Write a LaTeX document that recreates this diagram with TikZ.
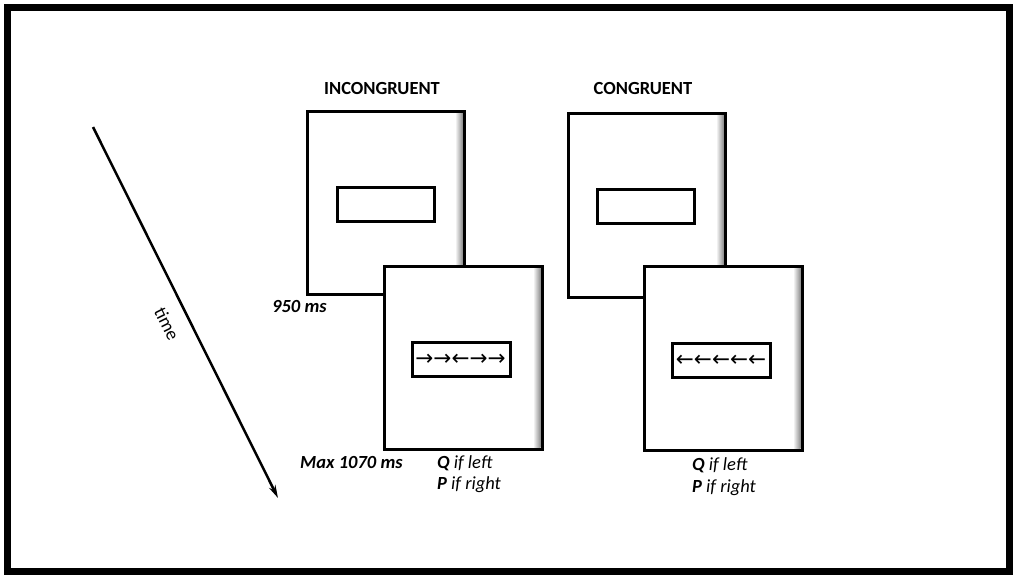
\documentclass[tikz,border=0pt]{standalone}
\usepackage{fontspec}
\setmainfont{Carlito}
\newfontfamily\symfont{DejaVu Sans}
\usetikzlibrary{arrows.meta}
\tikzset{
  screen/.style={draw, line width=3pt, fill=white, outer sep=0pt, inner sep=0pt},
  stim/.style={draw, line width=3pt, fill=white, outer sep=0pt, inner sep=0pt, minimum width=97pt, minimum height=34pt},
  lab/.style={inner sep=0pt, font=\fontsize{18.5}{22}\selectfont},
  arrowtext/.style={inner sep=0pt, font=\symfont\fontsize{21.5}{24}\selectfont},
}
\newcommand\screenbox[5]{%
  \node[screen, minimum width=#4pt, minimum height=#5pt] (#1) at (#2,#3) {};
  \shade[left color=white, right color=black!45]
    ([xshift=-9pt,yshift=-1.5pt]#1.north east) rectangle ([xshift=-1.5pt,yshift=1.5pt]#1.south east);
  \draw[line width=3pt] (#1.north west) rectangle (#1.south east);
}
\begin{document}
\begin{tikzpicture}[x=1pt,y=-1pt]
\useasboundingbox (0,0) rectangle (1014,574);
\fill[white] (0,0) rectangle (1014,574);
\draw[line width=7pt] (7.5,7.5) rectangle (1009.5,571);

% time arrow
\coordinate (a0) at (93,127);
\coordinate (a1) at (278,498);
\draw[line width=2.5pt, -{Stealth[length=13pt, width=7pt]}] (a0) -- (a1);
\node[lab, rotate=-63.5] (time) at (167,324) {time};

% titles
\node[lab, anchor=base] (tinc) at (382,94) {\bfseries INCONGRUENT};
\node[lab, anchor=base] (tcon) at (643,94) {\bfseries CONGRUENT};

% incongruent
\screenbox{ib}{385.5}{202.5}{157}{183}
\node[stim] (ibs) at (385.5,204) {};
\screenbox{if}{463}{357.5}{158}{183}
\node[stim, minimum width=98pt] (ifs) at (461,359) {};
\node[arrowtext] (ifa) at (460.5,359.5) {→→←→→};

% congruent
\screenbox{cb}{646.5}{205}{157}{184}
\node[stim] (cbs) at (645.5,206.5) {};
\screenbox{cf}{723}{358}{158}{184}
\node[stim, minimum width=98pt] (cfs) at (721,360) {};
\node[arrowtext] (cfa) at (721,360.5) {←←←←←};

% labels
\node[lab, anchor=base west] (t950) at (272,312) {\bfseries\itshape 950 ms};
\node[lab, anchor=base west] (tmax) at (300,468) {\bfseries\itshape Max 1070 ms};
\node[lab, anchor=base west] (q1) at (437,468) {\itshape\textbf{Q} if left};
\node[lab, anchor=base west] (p1) at (437,489) {\itshape\textbf{P} if right};
\node[lab, anchor=base west] (q2) at (692,470) {\itshape\textbf{Q} if left};
\node[lab, anchor=base west] (p2) at (692,492) {\itshape\textbf{P} if right};
\end{tikzpicture}
\end{document}
